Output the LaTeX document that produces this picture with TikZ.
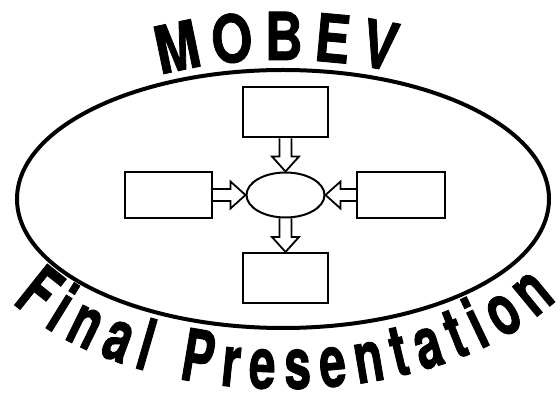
\documentclass[tikz,border=0pt]{standalone}
\usepackage{fontspec}
\usetikzlibrary{calc,shapes.geometric,decorations.text}
\newfontfamily\mobevfont[FakeStretch=0.8,FakeBold=1.2]{TeX Gyre Heros}
\newfontfamily\finalfont[FakeStretch=0.66,FakeBold=1.2]{TeX Gyre Heros}
\definecolor{LineClr}{rgb}{0,0,0}

\tikzset{
  outline/.style={draw=LineClr,line width=4pt},
  box/.style={draw=LineClr,line width=2pt,minimum width=85pt,minimum height=50pt,inner sep=0pt},
  hub/.style={ellipse,draw=LineClr,line width=2pt,minimum width=78pt,minimum height=45pt,inner sep=0pt},
  flowarrow/.style={draw=LineClr,line width=1.8pt,line join=miter}
}

\newcommand\flowArrow[2]{%
  \coordinate (fa) at (#1);
  \coordinate (fb) at (#2);
  \coordinate (fh) at ($(fb)!15pt!(fa)$);
  \draw[flowarrow] ($(fa)!6pt!90:(fb)$) -- ($(fh)!6pt!90:(fb)$) -- ($(fh)!13.5pt!90:(fb)$) -- (fb)
    -- ($(fh)!13.5pt!-90:(fb)$) -- ($(fh)!6pt!-90:(fb)$) -- ($(fa)!6pt!-90:(fb)$);
}

\begin{document}
\begin{tikzpicture}[x=1pt,y=1pt]
\useasboundingbox (0,0) rectangle (560,399);

\coordinate (O) at (283,200);
\draw[outline] (O) ellipse [x radius=266pt,y radius=129pt];

\node[hub] (H) at (285.5,204) {};
\node[box] (N) at (285.5,286.5) {};
\node[box,minimum width=87pt,minimum height=46pt] (W) at (168.5,204) {};
\node[box,minimum width=88pt,minimum height=46pt] (E) at (401,204) {};
\node[box] (S) at (285.5,121) {};

\flowArrow{N.south}{H.north}
\flowArrow{W.east}{H.west}
\flowArrow{E.west}{H.east}
\flowArrow{H.south}{S.north}

\path[decorate,decoration={text along path,text align=fit to path,
  text={|\mobevfont\bfseries\fontsize{66}{66}\selectfont|MOBEV}}]
  ($(O)+(117:270pt and 139pt)$) arc[start angle=117,end angle=66,x radius=270pt,y radius=139pt];

\path[decorate,decoration={text along path,text align=fit to path,
  text={|\finalfont\bfseries\fontsize{72}{72}\selectfont|Final Presentation}}]
  ($(O)+(213:323pt and 190pt)$) arc[start angle=213,end angle=328,x radius=323pt,y radius=190pt];

\end{tikzpicture}
\end{document}
